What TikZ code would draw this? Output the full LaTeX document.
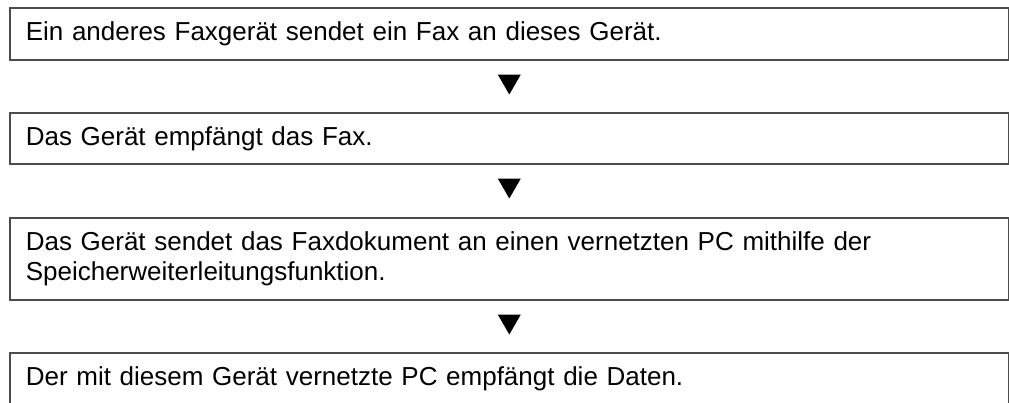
\documentclass[tikz,border=0pt]{standalone}
\usepackage{fontspec}
\setmainfont{Liberation Sans}
\usetikzlibrary{shapes.geometric}
\begin{document}
\begin{tikzpicture}[x=1pt,y=-1pt,
  stepbox/.style={draw=black!70,line width=1.6pt,fill=white,anchor=north west,
    text width=967pt,inner xsep=16pt,inner ysep=0pt,align=left,
    font=\fontsize{26}{29.5}\selectfont},
  downtri/.style={regular polygon,regular polygon sides=3,shape border rotate=180,
    fill=black,draw=none,minimum size=26.6pt,inner sep=0pt}]
\useasboundingbox (0,0) rectangle (1009,403);
\node[stepbox,minimum height=52pt] (b1) at (9,7) {Ein anderes Faxgerät sendet ein Fax an dieses Gerät.};
\node[stepbox,minimum height=51pt] (b2) at (9,112) {Das Gerät empfängt das Fax.};
\node[stepbox,minimum height=82pt] (b3) at (9,217) {Das Gerät sendet das Faxdokument an einen vernetzten PC mithilfe der\\Speicherweiterleitungsfunktion.};
\node[stepbox,minimum height=52pt] (b4) at (9,352) {Der mit diesem Gerät vernetzte PC empfängt die Daten.};
\node[downtri] (t1) at ([yshift=-20.6pt]b1.south) {};
\node[downtri] (t2) at ([yshift=-20.6pt]b2.south) {};
\node[downtri] (t3) at ([yshift=-20.6pt]b3.south) {};
\end{tikzpicture}
\end{document}
